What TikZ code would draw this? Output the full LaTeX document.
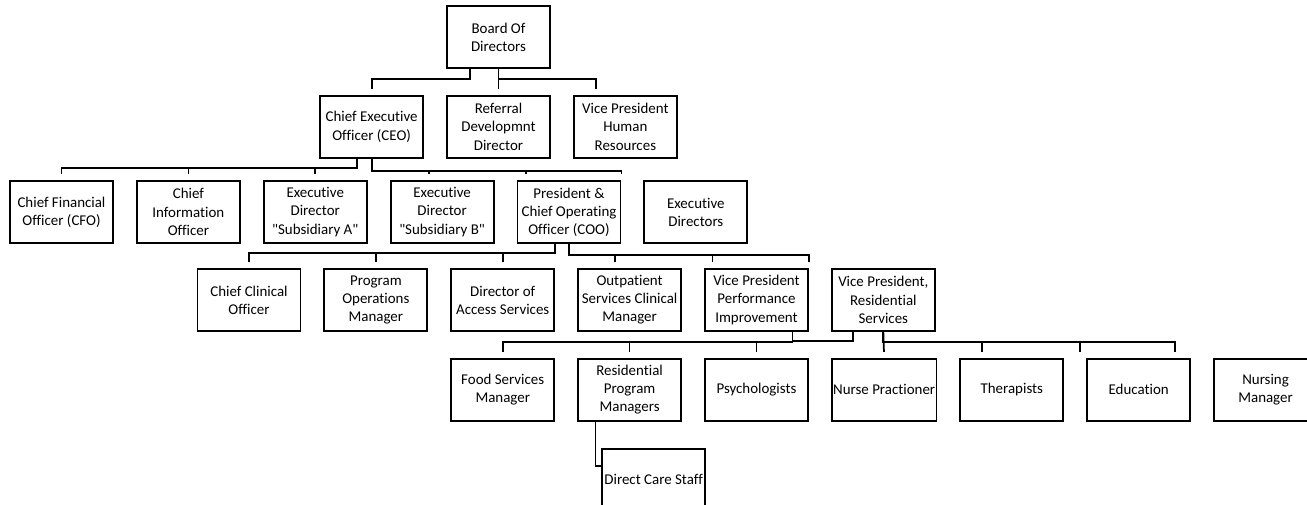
\documentclass[tikz,border=0pt]{standalone}
\usepackage{fontspec}
\setmainfont{Carlito}[Ligatures=NoCommon]
\usetikzlibrary{positioning}

\begin{document}
\begin{tikzpicture}[
      x=0.75pt, y=-0.75pt,
      node distance=19.5pt and 16.5pt,
      box/.style={rectangle, draw=black, line width=1.4pt, align=center,
        minimum width=77.25pt, minimum height=46.5pt, inner sep=1pt,
        font=\fontsize{11.2}{13.6}\selectfont},
      link/.style={draw=black, line width=1.3pt},
      drop/.style={link, shorten >=4.5pt},
    ]
    \useasboundingbox (0,0) rectangle (1307,505);

    \node[box] (board) at (498.5,37) {Board Of\\Directors};
    \node[box, below=of board] (referral) {Referral\\Developmnt\\Director};
    \node[box, left=of referral] (ceo) {Chief Executive\\Officer (CEO)};
    \node[box, right=of referral] (vphr) {Vice President\\Human\\Resources};

    \node[box] (cfo) at (61.5,212) {Chief Financial\\Officer (CFO)};
    \node[box, right=of cfo] (cio) {Chief\\Information\\Officer};
    \node[box, right=of cio] (execa) {Executive\\Director\\\textquotedbl Subsidiary A\textquotedbl};
    \node[box, right=of execa] (execb) {Executive\\Director\\\textquotedbl Subsidiary B\textquotedbl};
    \node[box, right=of execb] (coo) {President \&\\Chief Operating\\Officer (COO)};
    \node[box, right=of coo] (execdirs) {Executive\\Directors};

    \node[box] (cco) at (249,300) {Chief Clinical\\Officer};
    \node[box, right=of cco] (pom) {Program\\Operations\\Manager};
    \node[box, right=of pom] (das) {Director of\\Access Services};
    \node[box, right=of das] (oscm) {Outpatient\\Services Clinical\\Manager};
    \node[box, right=of oscm] (vppi) {Vice President\\Performance\\Improvement};
    \node[box, right=of vppi] (vprs) {Vice President,\\Residential\\Services};

    \node[box, below=of das] (food) {Food Services\\Manager};
    \node[box, right=of food] (rpm) {Residential\\Program\\Managers};
    \node[box, right=of rpm] (psych) {Psychologists};
    \node[box, right=of psych] (np) {Nurse Practioner};
    \node[box, right=of np] (ther) {Therapists};
    \node[box, right=of ther] (edu) {Education};
    \node[box, right=of edu] (nm) {Nursing\\Manager};
    \node[box, below=of rpm, xshift=18pt] (dcs) {Direct Care Staff};

    \draw[drop] ([xshift=-21.4pt]board.south) -- ++(0,10) -| (ceo.north);
    \draw[drop] (board.south) -- (referral.north);
    \draw[drop] (board.south) -- ++(0,10) -| ([xshift=-22pt]vphr.north);

    \foreach \n in {cfo,cio,execa}
      \draw[drop] ([xshift=-11pt]ceo.south) -- ++(0,9) -| (\n.north);
    \draw[drop] (ceo.south) -- ++(0,12) -| ([xshift=-10pt]execb.north);
    \draw[drop] (ceo.south) -- ++(0,12) -| ([xshift=-32pt]coo.north);
    \draw[drop] (ceo.south) -- ++(0,12) -| (coo.north east);

    \foreach \n in {cco,pom,das}
      \draw[drop] ([xshift=-10.5pt]coo.south) -- ++(0,9) -| (\n.north);
    \draw[drop] (coo.south) -- ++(0,11) -| ([xshift=-11pt]oscm.north);
    \draw[drop] (coo.south) -- ++(0,11) -| ([xshift=-33pt]vppi.north);
    \draw[drop] (coo.south) -- ++(0,11) -| (vppi.north east);

    \foreach \n in {food,rpm,psych}
      \draw[drop] ([xshift=27pt]vppi.south) -- ++(0,10) -| (\n.north);
    \draw[link] ([xshift=-23pt]vprs.south) -- ++(0,9) -| ([xshift=27pt]vppi.south);
    \draw[drop] (vprs.south) -- (np.north);
    \draw[drop] (vprs.south) -- ++(0,10) -| ([xshift=-22.5pt]ther.north);
    \draw[drop] (vprs.south) -- ++(0,10) -| ([xshift=-44.25pt]edu.north);
    \draw[drop] (vprs.south) -- ++(0,10) -| ([xshift=27pt]edu.north);

    \draw[link] ([xshift=-25.5pt]rpm.south) |- ([yshift=10.5pt]dcs.west);
  \end{tikzpicture}
\end{document}
